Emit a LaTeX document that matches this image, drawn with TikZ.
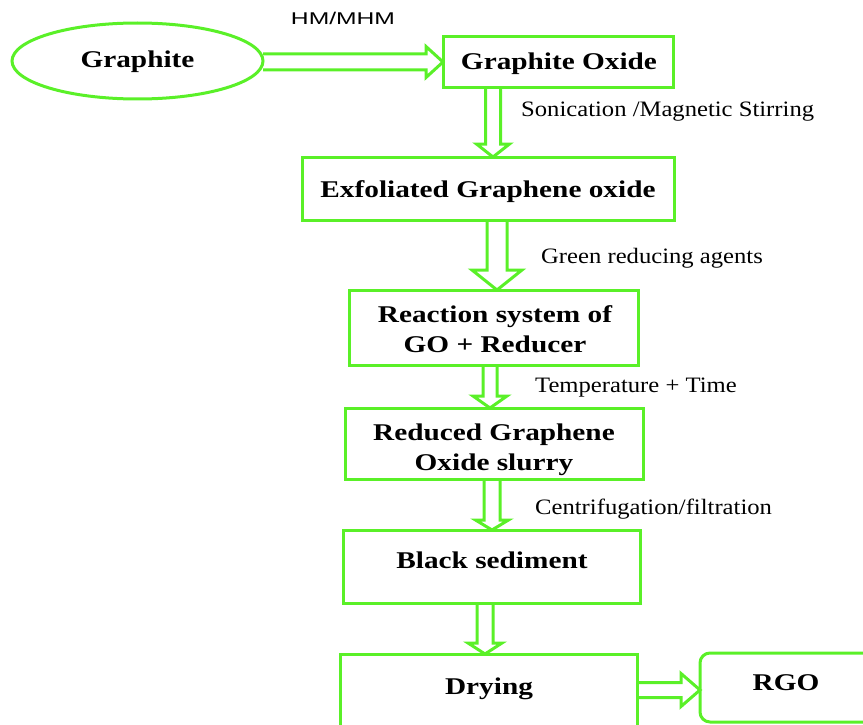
\documentclass[tikz,border=0pt]{standalone}
\usepackage{fontspec}
\setmainfont{Liberation Serif}
\newfontfamily\boxfnt[FakeStretch=1.22]{Liberation Serif}
\newfontfamily\lblfnt[FakeStretch=1.12]{Liberation Serif}
\newfontfamily\sansfnt[FakeStretch=1.45]{Liberation Sans}
\usetikzlibrary{shapes.geometric,calc}
\definecolor{grn}{RGB}{90,240,40}
\tikzset{
 box/.style={draw=grn, line width=3pt, rectangle, inner sep=0pt, outer sep=0pt},
 blk/.style={draw=grn, line width=3pt, line join=miter},
 btxt/.style={font=\boxfnt\bfseries\fontsize{24}{30}\selectfont, inner sep=0pt, anchor=base, align=center},
 b2txt/.style={font=\boxfnt\bfseries\fontsize{24}{30}\selectfont, inner sep=0pt, anchor=center, align=center},
 ltxt/.style={font=\lblfnt\fontsize{22}{26}\selectfont, inner sep=0pt, anchor=base west},
 stxt/.style={font=\sansfnt\fontsize{17}{20}\selectfont, inner sep=0pt, anchor=base},
}
\newcommand\vblk[6]{%
 \draw[blk] let \p1=(#1.south), \p2=(#2.north) in
 (#3pt-#4pt,\y1) -- (#3pt-#4pt,\y2+#6pt) -- (#3pt-#5pt,\y2+#6pt) -- (#3pt,\y2)
 -- (#3pt+#5pt,\y2+#6pt) -- (#3pt+#4pt,\y2+#6pt) -- (#3pt+#4pt,\y1);}
\newcommand\hblk[6]{%
 \draw[blk] let \p1=(#1.east), \p2=(#2.west) in
 (\x1,-#3pt+#4pt) -- (\x2-#6pt,-#3pt+#4pt) -- (\x2-#6pt,-#3pt+#5pt) -- (\x2,-#3pt)
 -- (\x2-#6pt,-#3pt-#5pt) -- (\x2-#6pt,-#3pt-#4pt) -- (\x1,-#3pt-#4pt);}
\begin{document}
\begin{tikzpicture}[x=1pt,y=-1pt]
\useasboundingbox (0,0) rectangle (863,725);
% boxes
\node[box, ellipse, minimum width=251pt, minimum height=76pt] (gr) at (137.5,61) {};
\node[box, minimum width=230pt, minimum height=51pt] (go) at (558,62.5) {};
\node[box, minimum width=372pt, minimum height=63pt] (ex) at (488,188.5) {};
\node[box, minimum width=289pt, minimum height=75pt] (rs) at (493.5,327.5) {};
\node[box, minimum width=298pt, minimum height=71pt] (rd) at (494,443.5) {};
\node[box, minimum width=297pt, minimum height=73pt] (bs) at (491.5,566.5) {};
\node[box, minimum width=297pt, minimum height=86pt] (dr) at (488.5,697) {};
\node[box, rounded corners=10pt, minimum width=175pt, minimum height=69pt] (rgo) at (787.5,687.5) {};
% texts
\node[btxt] (grt) at (137.5,68) {Graphite};
\node[btxt] (got) at (559,70) {Graphite Oxide};
\node[btxt] (ext) at (488,197) {Exfoliated Graphene oxide};
\node[b2txt] (rst) at (495,329) {Reaction system of\\GO + Reducer};
\node[b2txt] (rdt) at (494,450) {Reduced Graphene\\Oxide slurry};
\node[btxt] (bst) at (492,568) {Black sediment};
\node[btxt] (drt) at (489,694) {Drying};
\node[btxt] (rgot) at (786,690) {RGO};
% labels
\node[stxt] (l0) at (343,25) {HM/MHM};
\node[ltxt] (l1) at (521,117) {Sonication /Magnetic Stirring};
\node[ltxt] (l2) at (541,263) {Green reducing agents};
\node[ltxt] (l3) at (535,392) {Temperature + Time};
\node[ltxt] (l4) at (535,514) {Centrifugation/filtration};
% arrows
\hblk{gr}{go}{62}{8}{15.5}{17}
\vblk{go}{ex}{493}{7.5}{16.5}{13}
\vblk{ex}{rs}{497}{10}{25}{20}
\vblk{rs}{rd}{490}{7}{17}{12}
\vblk{rd}{bs}{492}{8}{16.5}{10}
\vblk{bs}{dr}{485}{8}{17}{11}
\hblk{dr}{rgo}{690}{7.5}{16.5}{19}
\end{tikzpicture}
\end{document}
